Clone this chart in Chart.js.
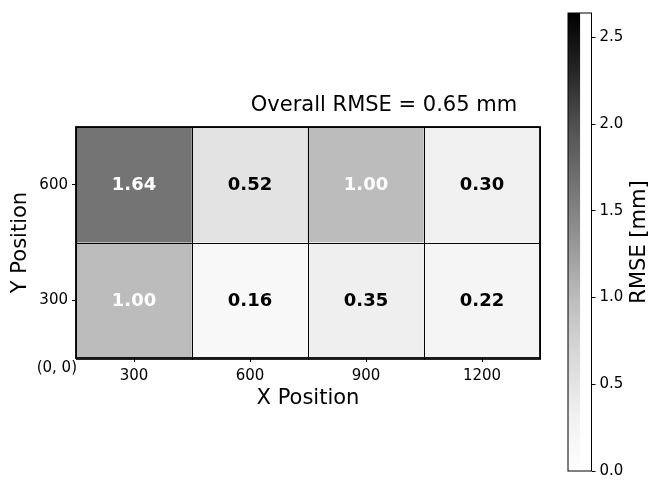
<!DOCTYPE html>
<html>
<head>
<meta charset="utf-8">
<script src="https://cdn.jsdelivr.net/npm/chart.js@4/dist/chart.umd.min.js"></script>
<style>
  html, body { margin: 0; padding: 0; background: #fff; }
  #wrap { position: relative; width: 649px; height: 484px; overflow: hidden; }
  #heat { position: absolute; left: 0; top: 0; }
  #cbar { position: absolute; left: 555px; top: 0; }
</style>
</head>
<body>
<div id="wrap">
  <canvas id="heat" width="555" height="484"></canvas>
  <canvas id="cbar" width="94" height="484"></canvas>
</div>
<script>
// Grid of measurement positions and the RMSE measured in each cell
const xPositions = [300, 600, 900, 1200];
const yPositions = [300, 600];
const rmseRow300 = [1.00, 0.16, 0.35, 0.22];
const rmseRow600 = [1.64, 0.52, 1.00, 0.30];
const overallRmse = 0.65;

// Colour scale
const colorMax = 2.64;
const colorTicks = [0, 0.5, 1.0, 1.5, 2.0, 2.5];

const FONT = '"DejaVu Sans", "Liberation Sans", sans-serif';
Chart.defaults.font.family = FONT;
Chart.defaults.color = '#000';

// Sequential grey colour map (white -> black)
const GREYS = ['#ffffff', '#f0f0f0', '#d9d9d9', '#bdbdbd', '#969696',
               '#737373', '#525252', '#252525', '#000000'];
function hexToRgb(h) {
  return [parseInt(h.slice(1, 3), 16), parseInt(h.slice(3, 5), 16), parseInt(h.slice(5, 7), 16)];
}
function greys(t) {
  t = Math.max(0, Math.min(1, t));
  const pos = t * (GREYS.length - 1);
  const i = Math.min(Math.floor(pos), GREYS.length - 2);
  const f = pos - i;
  const a = hexToRgb(GREYS[i]), b = hexToRgb(GREYS[i + 1]);
  const c = a.map((v, k) => Math.round(v + (b[k] - v) * f));
  return `rgb(${c[0]},${c[1]},${c[2]})`;
}

const halfStep = (yPositions[1] - yPositions[0]) / 2;
const rows = [rmseRow300, rmseRow600];

const heatDatasets = rows.map((vals, r) => ({
  data: xPositions.map((x, i) => ({
    x: String(x),
    y: [yPositions[r] - halfStep, yPositions[r] + halfStep],
    v: vals[i]
  })),
  backgroundColor: ctx => greys(ctx.raw.v / colorMax),
  borderWidth: 0,
  barPercentage: 1,
  categoryPercentage: 1
}));

const heatDecor = {
  id: 'heatDecor',
  afterDatasetsDraw(chart) {
    const ctx = chart.ctx;
    const area = chart.chartArea;
    ctx.save();
    // cell edges
    ctx.strokeStyle = 'rgba(0,0,0,0.85)';
    ctx.lineWidth = 1;
    chart.data.datasets.forEach((ds, di) => {
      chart.getDatasetMeta(di).data.forEach(el => {
        const top = Math.min(el.y, el.base), h = Math.abs(el.base - el.y);
        ctx.strokeRect(Math.round(el.x - el.width / 2) + 0.5, Math.round(top) + 0.5, Math.round(el.width), Math.round(h));
      });
    });
    // outer frame
    ctx.strokeStyle = '#000';
    ctx.lineWidth = 1.8;
    ctx.strokeRect(area.left, area.top, area.right - area.left, area.bottom - area.top);
    // cell values
    ctx.font = 'bold 18px ' + FONT;
    ctx.textAlign = 'center';
    ctx.textBaseline = 'middle';
    chart.data.datasets.forEach((ds, di) => {
      chart.getDatasetMeta(di).data.forEach((el, i) => {
        const v = ds.data[i].v;
        ctx.fillStyle = v / colorMax > 0.3 ? '#ffffff' : '#000000';
        ctx.fillText(v.toFixed(2), el.x, (el.y + el.base) / 2 + 1);
      });
    });
    ctx.restore();
  },
  afterDraw(chart) {
    const ctx = chart.ctx;
    const area = chart.chartArea;
    ctx.save();
    ctx.fillStyle = '#000';
    ctx.font = '21px ' + FONT;
    ctx.textAlign = 'center';
    ctx.textBaseline = 'alphabetic';
    ctx.fillText('Overall RMSE = ' + overallRmse.toFixed(2) + ' mm', 384, 111);
    ctx.font = '15px ' + FONT;
    ctx.textAlign = 'right';
    ctx.textBaseline = 'middle';
    ctx.fillText('(0, 0)', area.left + 1, area.bottom + 10);
    ctx.restore();
  }
};

new Chart(document.getElementById('heat'), {
  type: 'bar',
  data: { labels: xPositions.map(String), datasets: heatDatasets },
  options: {
    responsive: false,
    animation: false,
    devicePixelRatio: 1,
    layout: { padding: { left: 0, top: 127, right: 15, bottom: 0 } },
    plugins: { legend: { display: false }, tooltip: { enabled: false }, title: { display: false } },
    scales: {
      x: {
        type: 'category',
        stacked: true,
        offset: true,
        grid: { offset: false, drawOnChartArea: false, drawTicks: true, tickLength: 4, color: '#000' },
        border: { display: false },
        ticks: { color: '#000', font: { size: 15 }, padding: 5, maxRotation: 0 },
        title: { display: true, text: 'X Position', color: '#000', font: { size: 21 }, padding: { top: 0, bottom: 73 } },
        afterFit: s => { s.height = 126; }
      },
      y: {
        type: 'linear',
        position: 'left',
        min: yPositions[0] - halfStep,
        max: yPositions[yPositions.length - 1] + halfStep,
        afterBuildTicks: s => { s.ticks = yPositions.map(v => ({ value: v })); },
        grid: { drawOnChartArea: false, drawTicks: true, tickLength: 4, color: '#000' },
        border: { display: false },
        ticks: { color: '#000', font: { size: 15 }, padding: 4 },
        title: { display: true, text: 'Y Position', color: '#000', font: { size: 21 }, padding: { top: 8, bottom: 0 } },
        afterFit: s => { s.width = 76; }
      }
    }
  },
  plugins: [heatDecor]
});

// Colour bar
const cbarDecor = {
  id: 'cbarDecor',
  afterDraw(chart) {
    const ctx = chart.ctx;
    const a = chart.chartArea;
    ctx.save();
    ctx.strokeStyle = '#000';
    ctx.lineWidth = 1;
    ctx.strokeRect(a.left, a.top, a.right - a.left, a.bottom - a.top);
    ctx.fillStyle = '#000';
    ctx.font = '21px ' + FONT;
    ctx.translate(85, (a.top + a.bottom) / 2);
    ctx.rotate(-Math.PI / 2);
    ctx.textAlign = 'center';
    ctx.textBaseline = 'middle';
    ctx.fillText('RMSE [mm]', 0, 0);
    ctx.restore();
  }
};

new Chart(document.getElementById('cbar'), {
  type: 'bar',
  data: {
    labels: [''],
    datasets: [{
      data: [[0, colorMax]],
      backgroundColor: ctx => {
        const chart = ctx.chart;
        if (!chart.chartArea) return '#888';
        const ys = chart.scales.y;
        const g = chart.ctx.createLinearGradient(0, ys.getPixelForValue(0), 0, ys.getPixelForValue(colorMax));
        GREYS.forEach((c, i) => g.addColorStop(i / (GREYS.length - 1), c));
        return g;
      },
      borderWidth: 0,
      barPercentage: 1,
      categoryPercentage: 1
    }]
  },
  options: {
    responsive: false,
    animation: false,
    devicePixelRatio: 1,
    layout: { padding: { left: 13, top: 9.5, right: 0, bottom: 9 } },
    plugins: { legend: { display: false }, tooltip: { enabled: false } },
    scales: {
      x: { display: false, offset: false },
      y: {
        position: 'right',
        min: 0,
        max: colorMax,
        afterBuildTicks: s => { s.ticks = colorTicks.map(v => ({ value: v })); },
        grid: { drawOnChartArea: false, drawTicks: true, tickLength: 4, color: '#000' },
        border: { display: false },
        ticks: { color: '#000', font: { size: 15 }, padding: 4, callback: v => Number(v).toFixed(1) },
        afterFit: s => { s.width = 57.5; }
      }
    }
  },
  plugins: [cbarDecor]
});
</script>
</body>
</html>
